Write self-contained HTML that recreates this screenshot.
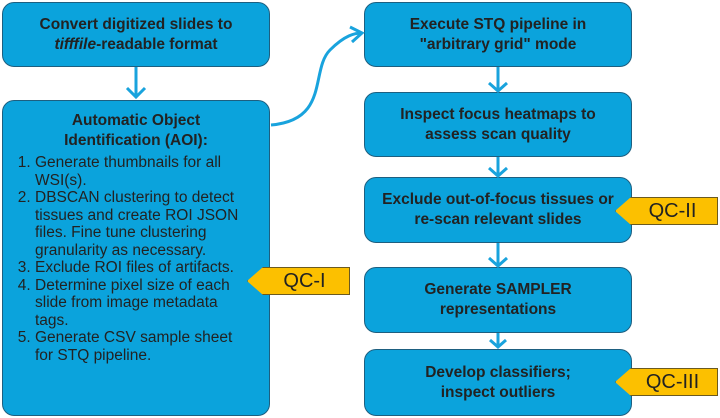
<!DOCTYPE html>
<html><head><style>
body{margin:0;width:720px;height:418px;background:#fff;position:relative;overflow:hidden;font-family:"Liberation Sans",sans-serif;color:#222}
.b{position:absolute;box-sizing:border-box;background:#0ba3dc;border:1.5px solid #1d5f80;border-radius:12px;display:flex;align-items:center;justify-content:center;text-align:center;font-weight:bold;font-size:15.5px;line-height:20px}
.qc{position:absolute;height:28px;background:#fcc000;border:1px solid #6b5a20;clip-path:polygon(0 50%,16px 0,100% 0,100% 100%,16px 100%);font-size:20px;display:flex;align-items:center;justify-content:center;padding-left:12px;box-sizing:border-box}
ol{margin:3px 0 0 0;padding-left:22px;text-align:left;font-weight:normal;font-size:15.5px;line-height:17.5px}
</style></head><body>
<div class="b" style="left:2px;top:2px;width:268px;height:65px"><div>Convert digitized slides to<br><i>tifffile</i>-readable format</div></div>
<div class="b" style="left:2px;top:100px;width:268px;height:316px;display:block;padding:10px 22px 0 10px">
<div style="padding-left:12px">Automatic Object<br>Identification (AOI):</div>
<ol>
<li>Generate thumbnails for all WSI(s).</li>
<li>DBSCAN clustering to detect tissues and create ROI JSON files. Fine tune clustering granularity as necessary.</li>
<li>Exclude ROI files of artifacts.</li>
<li>Determine pixel size of each slide from image metadata tags.</li>
<li>Generate CSV sample sheet for STQ pipeline.</li>
</ol></div>
<div class="b" style="left:364px;top:2px;width:268px;height:65px"><div>Execute STQ pipeline in<br>"arbitrary grid" mode</div></div>
<div class="b" style="left:364px;top:92px;width:268px;height:65px"><div>Inspect focus heatmaps to<br>assess scan quality</div></div>
<div class="b" style="left:364px;top:177px;width:268px;height:66px"><div>Exclude out-of-focus tissues or<br>re-scan relevant slides</div></div>
<div class="b" style="left:364px;top:267px;width:268px;height:66px"><div>Generate SAMPLER<br>representations</div></div>
<div class="b" style="left:364px;top:349px;width:268px;height:67px"><div>Develop classifiers;<br>inspect outliers</div></div>
<div class="qc" style="left:247px;top:267px;width:103px">QC-I</div>
<div class="qc" style="left:615px;top:197px;width:103px">QC-II</div>
<div class="qc" style="left:615px;top:368px;width:103px">QC-III</div>
<svg width="720" height="418" style="position:absolute;left:0;top:0" fill="none" stroke="#19a3dd" stroke-width="3">
<path d="M136 67V97M127 88l9 9 9-9"/>
<path d="M498 67V90M489 83l9 8 9-8"/>
<path d="M498 157V175M489 168l9 8 9-8"/>
<path d="M498 243V265M489 258l9 8 9-8"/>
<path d="M498 333V347M490 340l8 7 8-7"/>
<path d="M271 125C330 120 310 70 330 50 345 35 355 33 362 33M350 27l12 6-10 9"/>
</svg>
</body></html>
